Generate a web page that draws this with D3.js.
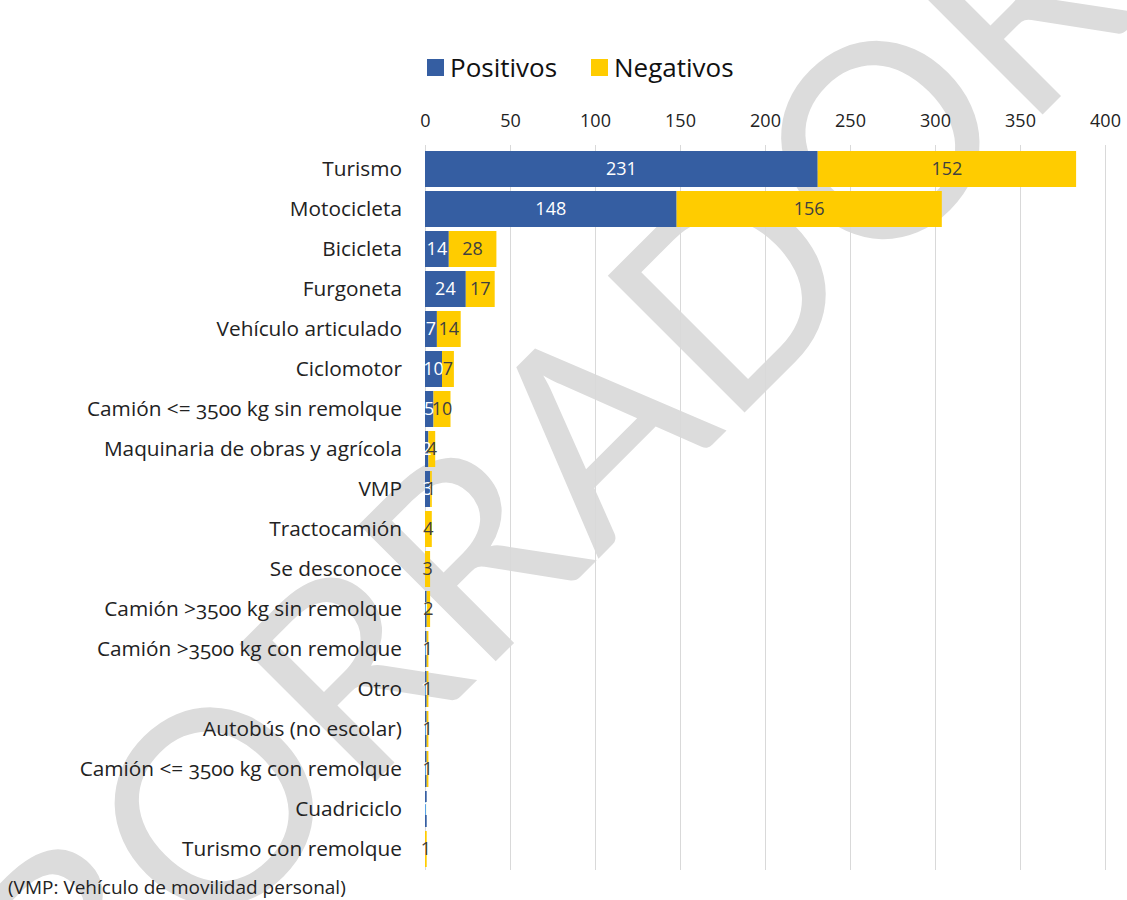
<!DOCTYPE html>
<html>
<head>
<meta charset="utf-8">
<script src="https://cdn.jsdelivr.net/npm/d3@7"></script>
<style>
  html, body { margin: 0; padding: 0; background: #fff; }
  svg { display: block; font-family: "Open Sans", Lato, sans-serif; }
  .cat { font-variant-numeric: oldstyle-nums; }
</style>
</head>
<body>
<svg id="chart" width="1127" height="900"></svg>
<script>
// Vehículos implicados por tipo, según resultado positivo / negativo
const categories = [
  "Turismo", "Motocicleta", "Bicicleta", "Furgoneta", "Vehículo articulado",
  "Ciclomotor", "Camión <= 3500 kg sin remolque", "Maquinaria de obras y agrícola",
  "VMP", "Tractocamión", "Se desconoce", "Camión >3500 kg sin remolque",
  "Camión >3500 kg con remolque", "Otro", "Autobús (no escolar)",
  "Camión <= 3500 kg con remolque", "Cuadriciclo", "Turismo con remolque"
];
const positivos = [231, 148, 14, 24, 7, 10, 5, 2, 3, 0, 0, 1, 1, 1, 1, 1, 1, 0];
const negativos = [152, 156, 28, 17, 14, 7, 10, 4, 1, 4, 3, 2, 1, 1, 1, 1, 0, 1];
const seriesNames = ["Positivos", "Negativos"];
const xTicks = [0, 50, 100, 150, 200, 250, 300, 350, 400];
const footnote = "(VMP: Vehículo de movilidad personal)";
const watermark = "BORRADOR";

const colors = { Positivos: "#355ea2", Negativos: "#ffcc00" };
const labelColors = { Positivos: "#ffffff", Negativos: "#404040" };

const svg = d3.select("#chart");
const margin = { left: 425, right: 22, top: 149, bottom: 31 };
const W = 1127, H = 900;

const rows = categories.map((c, i) => ({ cat: c, Positivos: positivos[i], Negativos: negativos[i] }));
const stacked = d3.stack().keys(seriesNames)(rows);

const x = d3.scaleLinear().domain([0, 400]).range([margin.left, W - margin.right]);
const y = d3.scaleBand().domain(categories).range([margin.top, H - margin.bottom]).paddingInner(0.1).paddingOuter(0.05);

// Watermark
svg.append("text")
  .attr("transform", "translate(540,470) rotate(-45)")
  .attr("text-anchor", "middle")
  .attr("dominant-baseline", "central")
  .attr("font-family", "Lato, sans-serif")
  .attr("font-size", 270)
  .attr("fill", "#dcdcdc")
  .text(watermark);

// Vertical gridlines
svg.append("g")
  .selectAll("line")
  .data(xTicks)
  .join("line")
  .attr("x1", d => x(d) + 0.5).attr("x2", d => x(d) + 0.5)
  .attr("y1", margin.top - 4).attr("y2", H - margin.bottom + 1)
  .attr("stroke", "#d9d9d9").attr("stroke-width", 1);

// Top axis labels
const axis = svg.append("g")
  .attr("transform", `translate(0,${margin.top - 22})`)
  .call(d3.axisTop(x).tickValues(xTicks).tickSize(0).tickPadding(0));
axis.select(".domain").remove();
axis.selectAll("text").attr("font-size", 18).attr("fill", "#222").attr("font-family", "'Open Sans', sans-serif");

// Bars
const layers = svg.append("g").selectAll("g")
  .data(stacked)
  .join("g")
  .attr("fill", d => colors[d.key]);

layers.selectAll("rect")
  .data(d => d)
  .join("rect")
  .attr("x", d => x(d[0]))
  .attr("width", d => x(d[1]) - x(d[0]))
  .attr("y", d => y(d.data.cat))
  .attr("height", y.bandwidth());

// Category labels
svg.append("g")
  .selectAll("text")
  .data(categories)
  .join("text")
  .attr("class", "cat")
  .attr("x", margin.left - 23)
  .attr("y", d => y(d) + y.bandwidth() / 2)
  .attr("dy", "0.35em")
  .attr("text-anchor", "end")
  .attr("font-size", 20.8)
  .attr("fill", "#222")
  .text(d => d);

// Value labels
const labelGroups = svg.append("g").selectAll("g")
  .data(stacked)
  .join("g")
  .attr("fill", d => labelColors[d.key]);

labelGroups.selectAll("text")
  .data(d => d.filter(s => s[1] - s[0] > 0))
  .join("text")
  .attr("x", d => (x(d[0]) + x(d[1])) / 2)
  .attr("y", d => y(d.data.cat) + y.bandwidth() / 2)
  .attr("dy", "0.35em")
  .attr("text-anchor", "middle")
  .attr("font-size", 18)
  .text(d => d[1] - d[0]);

// Legend
const legend = svg.append("g").attr("transform", "translate(427,59)");
const legendX = [0, 164];
seriesNames.forEach((s, i) => {
  legend.append("rect").attr("x", legendX[i]).attr("y", 0).attr("width", 17).attr("height", 17).attr("fill", colors[s]);
  legend.append("text").attr("x", legendX[i] + 23).attr("y", 18).attr("font-size", 26).attr("fill", "#111").text(s);
});

// Footnote
svg.append("text")
  .attr("x", 8).attr("y", 894)
  .attr("font-size", 19)
  .attr("fill", "#222")
  .text(footnote);
</script>
</body>
</html>
